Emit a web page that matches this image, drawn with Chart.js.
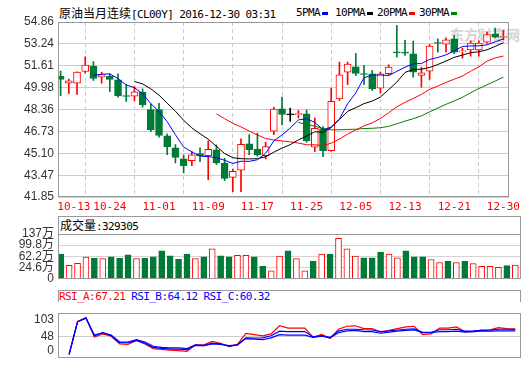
<!DOCTYPE html>
<html>
<head>
<meta charset="utf-8">
<script src="https://cdn.jsdelivr.net/npm/chart.js@4.4.1/dist/chart.umd.min.js"></script>
<style>
    html, body { margin: 0; padding: 0; background: #fff; }
    #wrap { position: relative; width: 524px; height: 369px; overflow: hidden; }
    canvas { position: absolute; left: 0; }
    .t { position: absolute; white-space: nowrap; font-family: "DejaVu Sans Mono", monospace; font-size: 11px; letter-spacing: -0.6px; line-height: 12px; color: #000; }
    .cjk { font-family: "Noto Sans CJK SC", sans-serif; font-size: 12px; letter-spacing: 0; }
    .band { position: absolute; left: 58px; width: 463px; box-sizing: border-box; border: 1px solid #999; border-bottom: none; }
    .sq { display: inline-block; width: 6px; height: 3px; vertical-align: middle; margin-left: 2px; }
    .wm { position: absolute; left: 450px; top: 24px; font-family: "Noto Sans CJK SC", sans-serif; font-weight: bold; font-size: 14px; color: #d4d4d4; letter-spacing: 0; }
</style>
</head>
<body>
<div id="wrap">
    <div class="wm">东方财富网</div>
    <div class="t" style="left:59px;top:7px;"><span class="cjk">原油当月连续</span>[CL00Y] 2016-12-30 03:31</div>
    <div class="t" style="left:296px;top:7px;">5PMA<span class="sq" style="background:#00f"></span></div>
    <div class="t" style="left:335px;top:7px;">10PMA<span class="sq" style="background:#000"></span></div>
    <div class="t" style="left:377px;top:7px;">20PMA<span class="sq" style="background:#f00"></span></div>
    <div class="t" style="left:419px;top:7px;">30PMA<span class="sq" style="background:#008000"></span></div>

    <div class="band" style="top:216px;height:18px;"></div>
    <div class="t" style="left:60px;top:219px;"><span class="cjk">成交量</span>:329305</div>

    <div class="band" style="top:290px;height:12px;"></div>
    <div class="t" style="left:59px;top:291px;"><span style="color:#f00">RSI_A:67.21</span> <span style="color:#00f">RSI_B:64.12</span> <span style="color:#00f">RSI_C:60.32</span></div>

    <canvas id="kline" width="524" height="216" style="top:0"></canvas>
    <canvas id="vol" width="524" height="74" style="top:216px"></canvas>
    <canvas id="rsi" width="524" height="67" style="top:302px"></canvas>
</div>
<script>
// datos
const dates = ['10-13','10-14','10-17','10-18','10-19','10-20','10-24','10-25','10-26','10-27','10-28','10-31',
    '11-01','11-02','11-03','11-04','11-07','11-08','11-09','11-10','11-11','11-14','11-15','11-16','11-17','11-18',
    '11-21','11-22','11-23','11-24','11-25','11-28','11-29','11-30','12-01','12-02','12-05','12-06','12-07','12-08',
    '12-09','12-12','12-13','12-14','12-15','12-16','12-19','12-20','12-21','12-22','12-23','12-27','12-28','12-29','12-30'];

const opens  = [50.83,50.31,50.31,51.18,51.58,50.76,50.83,50.56,49.39,49.34,49.64,48.35,48.35,46.39,45.50,44.68,44.56,45.08,44.93,45.35,
    44.38,43.31,43.84,45.80,45.42,44.93,46.74,48.40,47.95,47.97,48.03,45.55,46.91,45.30,49.15,51.13,51.53,51.01,51.01,49.94,
    51.01,52.64,52.62,52.50,50.88,51.21,53.31,53.22,53.61,52.64,52.79,52.79,53.36,53.98,53.71];
const highs  = [51.21,50.61,51.15,52.27,51.92,51.13,51.01,51.01,50.21,50.06,49.89,48.77,48.82,46.54,45.75,44.98,45.23,45.50,46.02,45.72,
    44.73,43.93,46.17,46.49,46.59,45.92,48.53,49.27,48.45,48.28,48.33,47.73,47.09,49.94,51.88,51.88,52.52,51.63,51.26,51.13,
    51.68,54.60,53.49,53.44,51.50,53.19,53.61,53.69,53.86,52.92,53.46,53.46,54.11,54.41,54.23];
const lows   = [49.39,49.54,49.47,51.06,50.51,50.31,49.69,49.27,48.95,49.00,48.53,46.71,46.29,45.00,44.38,43.64,44.18,44.48,43.14,44.26,
    43.07,42.25,42.25,45.00,44.88,44.68,46.49,47.21,47.48,47.73,45.92,45.23,44.85,45.25,49.02,50.21,50.88,50.21,49.77,49.59,
    50.93,52.25,52.37,50.76,50.01,50.59,52.62,52.62,52.50,52.17,52.32,52.32,53.29,53.69,53.54];
const closes = [50.59,50.49,51.13,51.65,50.66,50.96,50.59,49.37,49.32,49.67,48.72,46.86,46.42,45.60,44.80,44.18,44.98,44.90,45.40,44.38,
    43.24,43.76,45.77,45.37,44.98,45.60,48.38,47.98,47.95,48.00,46.04,46.96,45.30,48.97,50.93,51.73,51.03,50.96,49.89,51.01,
    51.50,52.57,52.55,51.13,51.08,53.07,53.26,53.54,52.62,52.69,53.29,53.29,53.93,53.74,53.76];

const ma5  = [null,null,null,null,50.90,50.98,51.00,50.65,50.18,49.98,49.53,48.79,48.20,47.45,46.48,45.57,45.20,44.89,44.85,44.77,
    44.58,44.34,44.51,44.50,44.62,45.10,46.02,46.46,46.98,47.58,47.67,47.39,46.85,47.05,47.64,48.78,49.59,50.72,50.91,50.92,
    50.88,51.19,51.50,51.75,51.77,52.08,52.22,52.42,52.71,53.04,53.08,53.09,53.16,53.39,53.60];
const ma10 = [null,null,null,null,null,null,null,null,null,50.44,50.26,49.89,49.42,48.82,48.23,47.55,46.99,46.55,46.15,45.62,
    45.08,44.77,44.70,44.68,44.70,44.84,45.18,45.49,45.74,46.10,46.38,46.70,46.66,47.02,47.61,48.22,48.49,48.79,48.98,49.28,
    49.83,50.39,51.11,51.33,51.35,51.48,51.70,51.96,52.23,52.40,52.58,52.65,52.79,53.05,53.32];
const ma20 = [null,null,null,null,null,null,null,null,null,null,null,null,null,null,null,null,null,null,null,48.03,
    47.67,47.33,47.06,46.75,46.46,46.20,46.09,46.02,45.95,45.86,45.73,45.73,45.68,45.85,46.15,46.53,46.83,47.14,47.36,47.69,
    48.11,48.55,48.89,49.17,49.48,49.85,50.10,50.37,50.61,50.84,51.20,51.52,51.95,52.19,52.33];
const ma30 = [null,null,null,null,null,null,null,null,null,null,null,null,null,null,null,null,null,null,null,null,
    null,null,null,null,null,null,null,null,null,47.39,47.24,47.12,46.93,46.84,46.85,46.87,46.89,46.94,46.96,47.00,
    47.10,47.29,47.49,47.67,47.88,48.18,48.46,48.74,48.99,49.26,49.60,49.91,50.19,50.47,50.76];

// volumen en 万
const volumes = [69.8,31.9,39.1,59.7,55.6,54.6,60.8,55.6,66.9,54.6,55.6,60.8,80.4,63.8,52.5,69.8,54.6,60.8,87.5,63.8,
    60.8,65.9,65.9,60.8,28.8,13.4,62.8,80.4,54.6,13.4,45.2,69.8,69.8,122.5,87.5,62.8,57.6,57.6,76.1,69.8,
    57.6,80.4,60.8,60.8,51.5,41.2,45.2,41.2,45.2,38.1,28.8,28.8,25.7,31.0,32.9];

const rsiA = [null,-13.4,98.4,110.9,45.6,55.9,48.0,22.0,20.5,33.8,22.0,6.3,3.2,0.8,-0.8,-3.1,18.9,18.9,30.7,24.4,
    12.6,20.5,57.4,53.5,49.0,55.9,83.4,75.5,75.5,75.5,44.1,54.3,40.1,71.6,81.8,83.4,74.0,74.0,62.2,67.7,
    74.0,79.5,81.8,53.5,55.9,75.5,75.5,79.5,63.7,63.7,69.2,70.0,77.1,74.0,73.2];
const rsiB = [null,-13.4,96.8,109.4,51.9,59.8,51.9,28.3,28.3,36.2,28.3,14.2,10.2,8.7,8.7,6.3,18.9,16.5,24.4,22.0,
    14.2,18.9,42.5,41.7,42.5,49.6,65.3,63.7,63.7,63.7,45.6,50.4,44.1,65.3,71.6,71.6,70.0,69.2,63.7,66.1,
    69.2,71.6,73.2,61.4,61.4,70.0,70.0,71.6,65.3,66.1,67.7,68.5,71.6,71.6,70.8];
const rsiC = [null,-13.4,96.8,109.4,49.6,59.8,49.6,26.0,26.0,33.8,24.4,10.2,7.1,4.7,4.7,2.4,16.5,16.5,22.0,20.5,
    16.5,18.9,40.1,37.8,36.2,42.5,53.5,51.9,51.9,51.9,44.1,48.0,42.5,59.8,66.1,67.7,63.7,63.7,58.2,62.2,
    65.3,67.7,69.2,59.8,59.8,63.7,63.7,65.3,62.2,63.7,65.3,65.3,66.1,66.1,66.1];

// etiquetas de ejes
const priceTicks = [41.85, 43.47, 45.10, 46.73, 48.36, 49.98, 51.61, 53.24, 54.86];
const dateTickIndex = [0, 6, 12, 18, 24, 30, 36, 42, 48, 54];
const volTicks = [-13, 24.6, 62.2, 99.8, 137];
const volTickLabels = ['0', '24.6万', '62.2万', '99.8万', '137万'];
const rsiTicks = [0, 48, 103];

const RED = '#f00';
const GREEN = '#007a37';
const X_MIN = -0.32, X_MAX = 54.68;
const AXIS_FONT = { family: 'Liberation Sans, "Noto Sans CJK SC", sans-serif', size: 12 };

function candleColor(i) {
    if (closes[i] > opens[i]) return RED;
    if (closes[i] < opens[i]) return GREEN;
    return '#000';
}
function xy(arr, i) { return { x: i, y: arr[i] }; }

// marco gris alrededor del area del grafico
const framePlugin = {
    id: 'frame',
    afterDraw(chart) {
        const a = chart.chartArea;
        const ctx = chart.ctx;
        ctx.save();
        ctx.strokeStyle = '#999';
        ctx.lineWidth = 1;
        ctx.strokeRect(Math.round(a.left) + 0.5, Math.round(a.top) + 0.5,
            Math.round(a.right - a.left) - 1, Math.round(a.bottom - a.top) - 1);
        ctx.restore();
    }
};

function xAxis(show) {
    const axis = {
        type: 'linear', min: X_MIN, max: X_MAX, display: show, offset: false,
        afterBuildTicks: s => { s.ticks = dateTickIndex.map(v => ({ value: v })); },
        grid: { color: '#ccc', drawTicks: false },
        border: { display: false, dash: [4, 3] },
        ticks: {
            autoSkip: false, maxRotation: 0, minRotation: 0, padding: 4,
            color: RED, font: { family: '"DejaVu Sans Mono", monospace', size: 11 },
            // la primera etiqueta va corrida a la derecha como en el original
            callback: v => (v === 0 ? '    ' : '') + (dates[v] || '')
        }
    };
    if (show) {
        axis.afterFit = s => { s.height = 19; };
    }
    return axis;
}

function yAxis(min, max, ticks, labelFn, gridFn) {
    return {
        type: 'linear', min: min, max: max,
        afterBuildTicks: s => { s.ticks = ticks.map(v => ({ value: v })); },
        afterFit: s => { s.width = 58; },
        grid: { color: gridFn, drawTicks: false },
        border: { display: false },
        ticks: { padding: 4, color: '#333', font: AXIS_FONT, autoSkip: false, callback: labelFn }
    };
}

const idx = closes.map((c, i) => i);
const baseOptions = {
    responsive: false, animation: false, events: [],
    plugins: { legend: { display: false }, tooltip: { enabled: false } }
};

// grafico de velas con medias moviles
new Chart(document.getElementById('kline'), {
    type: 'bar',
    data: {
        datasets: [
            { type: 'line', data: idx.map(i => xy(ma5, i)), borderColor: '#00f', borderWidth: 1, pointRadius: 0, order: 1 },
            { type: 'line', data: idx.map(i => xy(ma10, i)), borderColor: '#000', borderWidth: 1, pointRadius: 0, order: 1 },
            { type: 'line', data: idx.map(i => xy(ma20, i)), borderColor: RED, borderWidth: 1, pointRadius: 0, order: 1 },
            { type: 'line', data: idx.map(i => xy(ma30, i)), borderColor: '#008000', borderWidth: 1, pointRadius: 0, order: 1 },
            {
                data: idx.map(i => ({ x: i, y: [opens[i], closes[i]] })),
                backgroundColor: idx.map(i => closes[i] > opens[i] ? '#fff' : candleColor(i)),
                borderColor: idx.map(candleColor),
                borderWidth: 1, borderSkipped: false, barThickness: 7, minBarLength: 1, grouped: false, order: 2
            },
            {
                data: idx.map(i => ({ x: i, y: [lows[i], highs[i]] })),
                backgroundColor: idx.map(candleColor),
                borderWidth: 0, barThickness: 1, grouped: false, order: 3
            }
        ]
    },
    options: Object.assign({}, baseOptions, {
        layout: { padding: { top: 22, right: 3, left: 0, bottom: 0 } },
        scales: {
            x: xAxis(true),
            y: yAxis(41.85, 54.86, priceTicks, v => v.toFixed(2), () => '#ccc')
        }
    }),
    plugins: [framePlugin]
});

// volumen
const volMin = volTicks[0];
new Chart(document.getElementById('vol'), {
    type: 'bar',
    data: {
        datasets: [{
            data: idx.map(i => ({ x: i, y: [volMin, volumes[i]] })),
            backgroundColor: idx.map(i => closes[i] >= opens[i] ? '#fff' : GREEN),
            borderColor: idx.map(i => closes[i] >= opens[i] ? RED : GREEN),
            borderWidth: 1, borderSkipped: false, barThickness: 6, grouped: false
        }]
    },
    options: Object.assign({}, baseOptions, {
        layout: { padding: { top: 18, right: 3, left: 0, bottom: 8 } },
        scales: {
            x: xAxis(false),
            y: yAxis(volMin, 137, volTicks, (v, k) => volTickLabels[k],
                ctx => ctx.tick && ctx.tick.value > volMin && ctx.tick.value < 137 ? '#d4d4d4' : 'rgba(0,0,0,0)')
        }
    }),
    plugins: [framePlugin]
});

// RSI
new Chart(document.getElementById('rsi'), {
    type: 'line',
    data: {
        datasets: [
            { data: idx.map(i => xy(rsiC, i)), borderColor: '#00f', borderWidth: 1.2, pointRadius: 0 },
            { data: idx.map(i => xy(rsiB, i)), borderColor: '#00f', borderWidth: 1.2, pointRadius: 0 },
            { data: idx.map(i => xy(rsiA, i)), borderColor: RED, borderWidth: 1.2, pointRadius: 0 }
        ]
    },
    options: Object.assign({}, baseOptions, {
        layout: { padding: { top: 0, right: 3, left: 0, bottom: 3 } },
        scales: {
            x: xAxis(false),
            y: yAxis(-25, 126, rsiTicks, v => String(v),
                ctx => ctx.tick && ctx.tick.value === 48 ? '#ccc' : 'rgba(0,0,0,0)')
        }
    }),
    plugins: [framePlugin]
});
</script>
</body>
</html>
